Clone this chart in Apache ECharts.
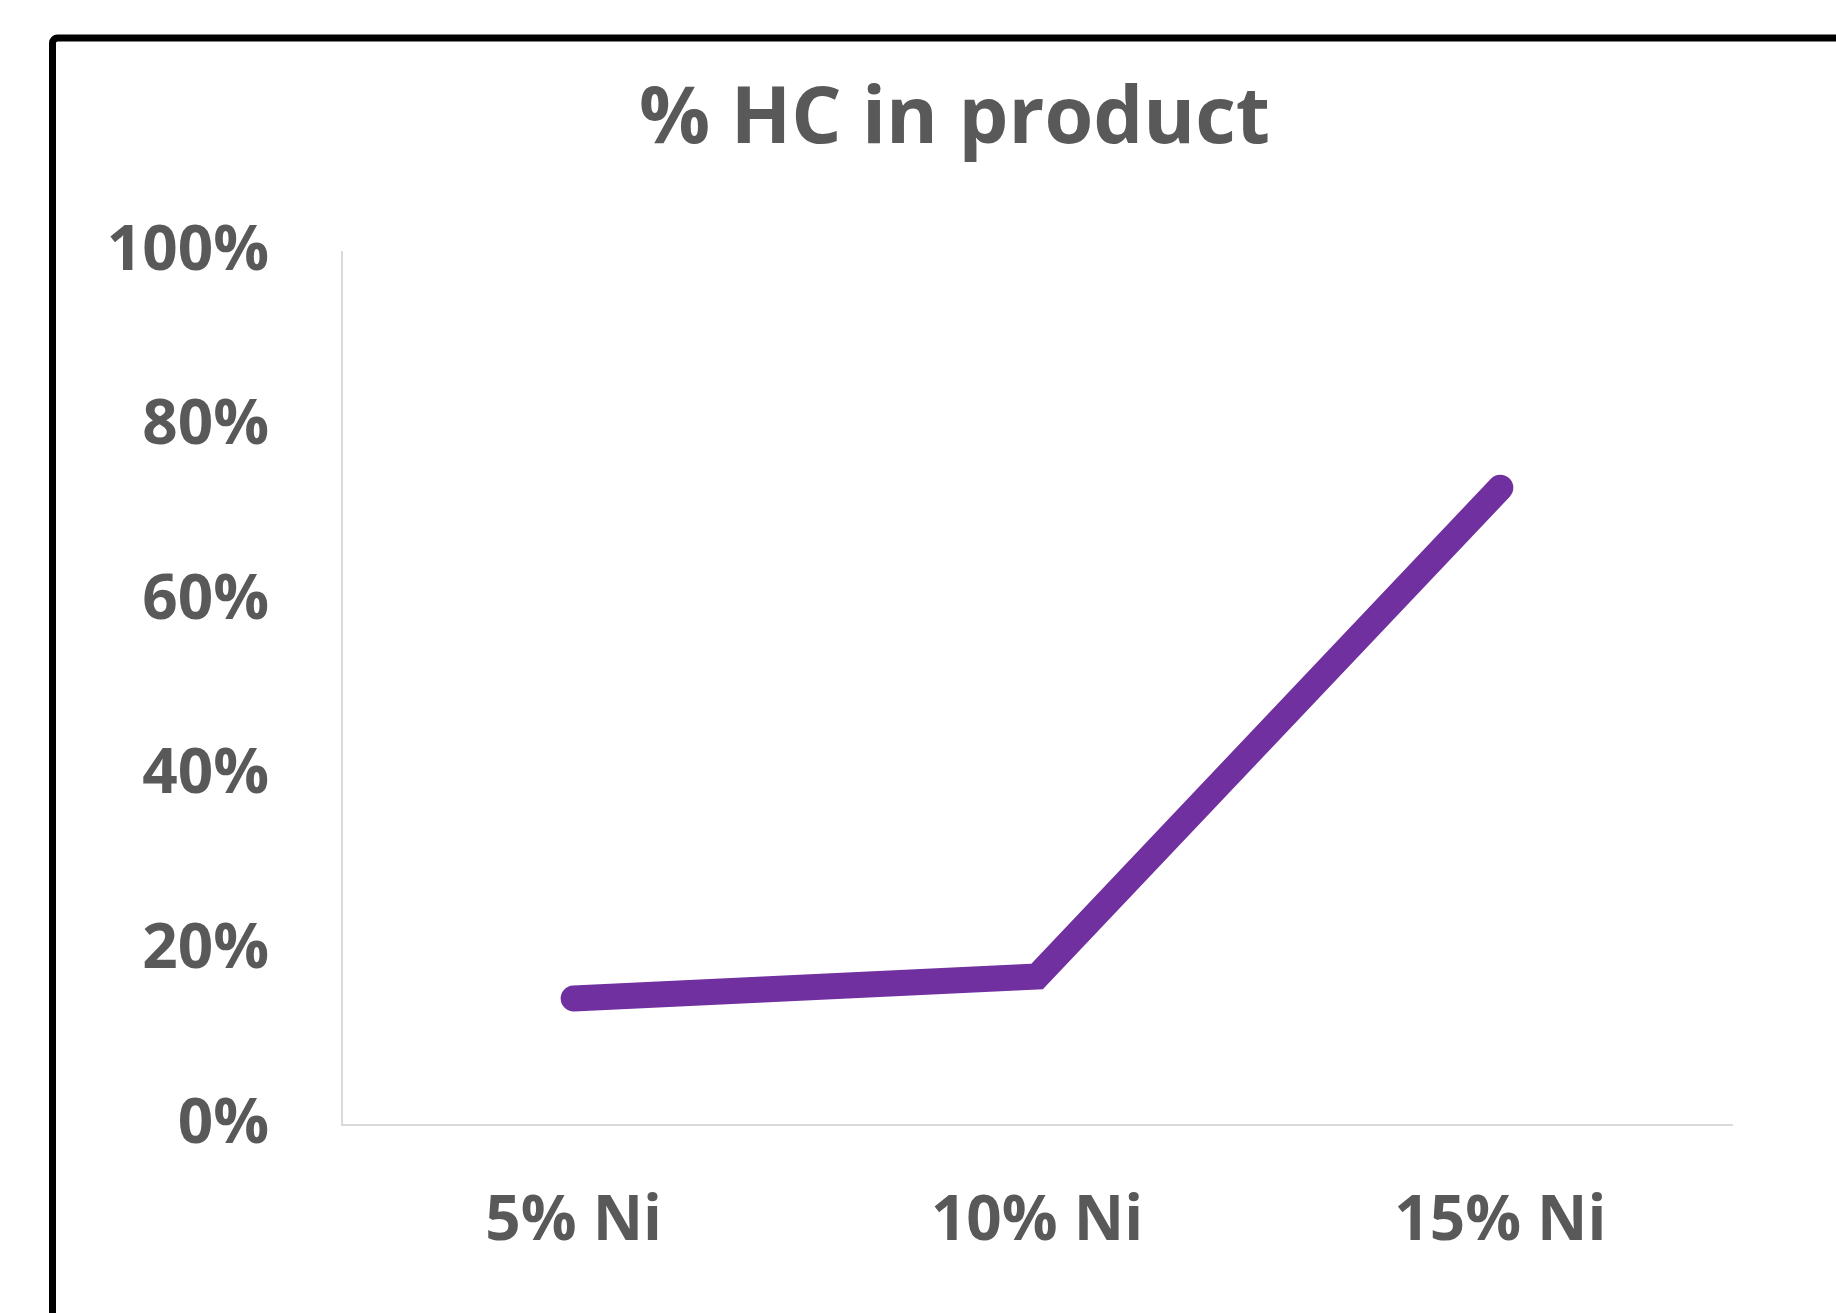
<!DOCTYPE html>
<html>
<head>
<meta charset="utf-8">
<script src="https://cdn.jsdelivr.net/npm/echarts@6/dist/echarts.min.js"></script>
<style>
  html, body { margin: 0; padding: 0; background: #ffffff; }
  #chart { width: 1836px; height: 1313px; }
</style>
</head>
<body>
<div id="chart"></div>
<script>
// Nickel loading categories and hydrocarbon share in product (percent)
const categories = ['5% Ni', '10% Ni', '15% Ni'];
const hcShare = [14.5, 17, 73];
const yTicks = [0, 20, 40, 60, 80, 100];

const FONT = "'Open Sans', sans-serif";
const TEXT = '#595959';

const chart = echarts.init(document.getElementById('chart'));
chart.setOption({
  backgroundColor: '#ffffff',
  animation: false,
  title: {
    text: '% HC in product',
    left: 634,
    top: 76,
    textStyle: { fontFamily: FONT, fontWeight: 'bold', fontSize: 79, color: TEXT }
  },
  graphic: [{
    type: 'rect',
    shape: { x: 52.5, y: 38, width: 2200, height: 2200, r: 5 },
    style: { fill: 'none', stroke: '#000000', lineWidth: 7 },
    silent: true
  }],
  grid: { left: 342, right: 104, top: 252, bottom: 188 },
  xAxis: {
    type: 'category',
    data: categories,
    boundaryGap: true,
    axisLine: { show: true, lineStyle: { color: '#d9d9d9', width: 2 } },
    axisTick: { show: false },
    axisLabel: {
      margin: 66,
      fontFamily: FONT, fontWeight: 'bold', fontSize: 62, color: TEXT
    }
  },
  yAxis: {
    type: 'value',
    min: 0,
    max: 100,
    interval: 20,
    axisLine: { show: true, lineStyle: { color: '#d9d9d9', width: 2 } },
    axisTick: { show: false },
    splitLine: { show: false },
    axisLabel: {
      margin: 73,
      fontFamily: FONT, fontWeight: 'bold', fontSize: 62, color: TEXT,
      formatter: v => (yTicks.includes(v) ? v + '%' : '')
    }
  },
  series: [{
    type: 'line',
    data: hcShare,
    symbol: 'none',
    lineStyle: { color: '#7030a0', width: 26, cap: 'round', join: 'miter' },
    z: 3
  }]
});
</script>
</body>
</html>
